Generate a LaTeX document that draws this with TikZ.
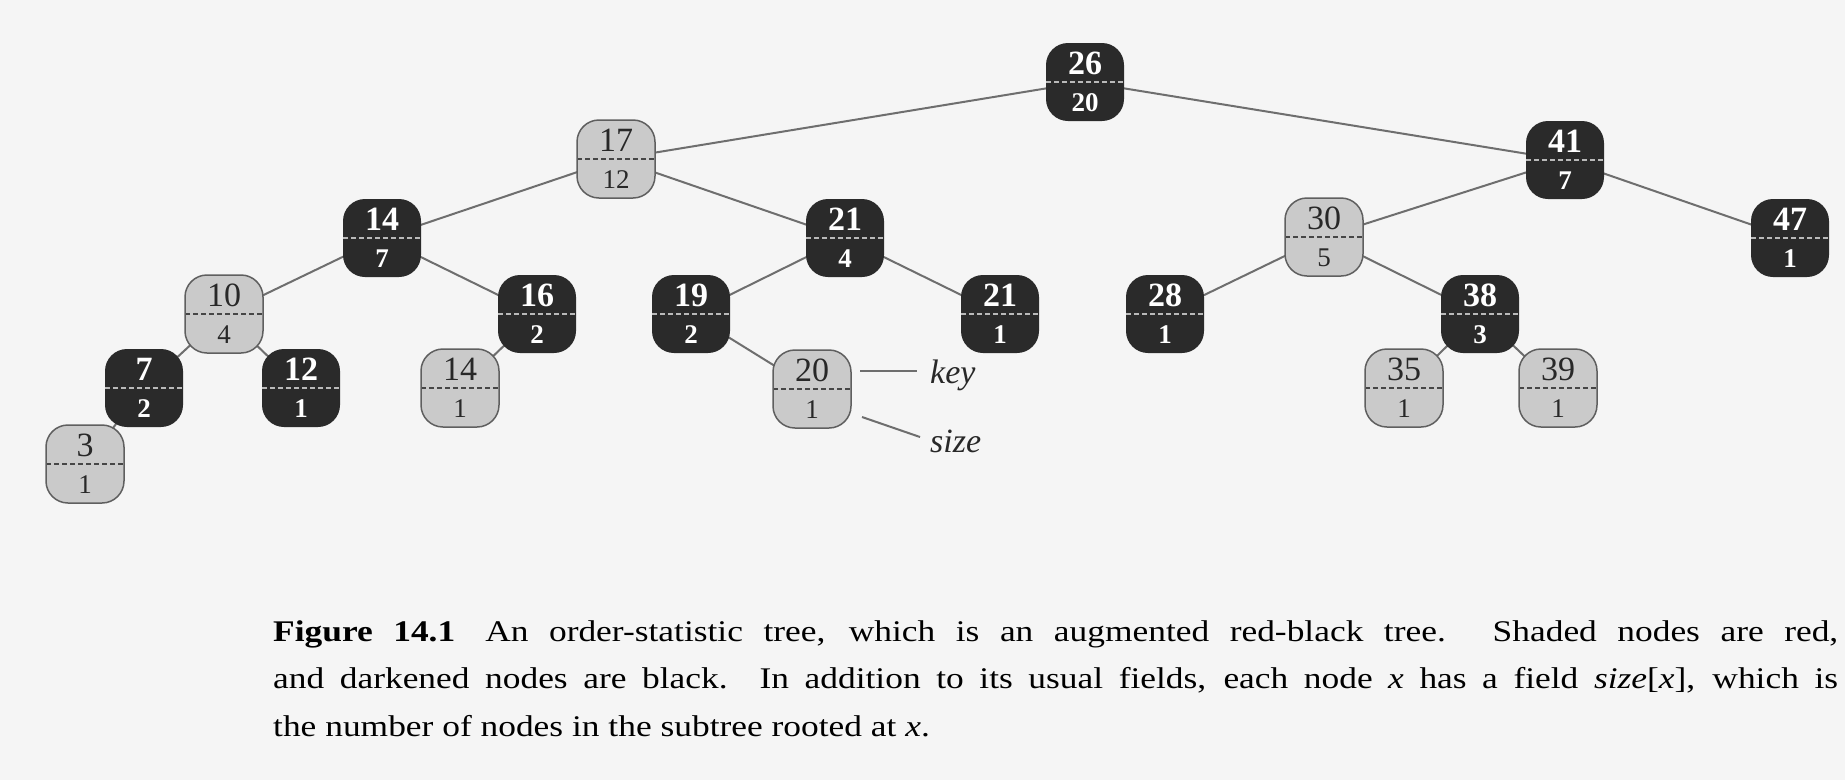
\documentclass[tikz,border=0pt]{standalone}
\usepackage{fontspec}
\setmainfont{Liberation Serif}
\newfontfamily\capfont[FakeStretch=1.18]{Liberation Serif}
\definecolor{bg}{RGB}{245,245,245}
\definecolor{blkfill}{RGB}{42,42,42}
\definecolor{redfill}{RGB}{202,202,202}
\definecolor{redborder}{RGB}{95,95,95}
\definecolor{edgecol}{RGB}{110,110,110}
\definecolor{lightdash}{RGB}{185,185,185}
\definecolor{darkdash}{RGB}{70,70,70}
\definecolor{redtext}{RGB}{40,40,40}
\newcommand\keyf{\fontsize{34}{37}\selectfont}
\newcommand\sizef{\fontsize{27}{37}\selectfont}
\pgfdeclarelayer{bglayer}
\pgfdeclarelayer{edgelayer}
\pgfsetlayers{bglayer,edgelayer,main}
\begin{document}
\begin{tikzpicture}[x=1pt,y=-1pt,
  rbbox/.style={rectangle, rounded corners=22pt, minimum width=78pt, minimum height=78pt,
    inner sep=0pt, align=center, font=\keyf},
  blacknode/.style={rbbox, fill=blkfill, text=white,
    path picture={\draw[dashed, dash pattern=on 5pt off 3pt, draw=lightdash, line width=1.5pt]
      (path picture bounding box.west) -- (path picture bounding box.east);}},
  rednode/.style={rbbox, fill=redfill, draw=redborder, line width=1.5pt, text=redtext,
    path picture={\draw[dashed, dash pattern=on 5pt off 3pt, draw=darkdash, line width=1.5pt]
      (path picture bounding box.west) -- (path picture bounding box.east);}},
  treeline/.style={draw=edgecol, line width=2pt},
  annot/.style={draw=edgecol, line width=2pt},
  lbl/.style={font=\fontsize{34}{37}\selectfont\itshape, inner sep=0pt, text=redtext}
]
\begin{pgfonlayer}{bglayer}
\fill[bg] (0,0) rectangle (1845,780);
\end{pgfonlayer}
\useasboundingbox (0,0) rectangle (1845,780);

\newcommand\bnode[4]{\node[blacknode] (#1) at (#2) {\textbf{#3}\\\sizef\textbf{#4}};}
\newcommand\rnode[4]{\node[rednode] (#1) at (#2) {#3\\\sizef #4};}

\bnode{n26}{1085,82}{26}{20}
\rnode{n17}{616,159}{17}{12}
\bnode{n41}{1565,160}{41}{7}
\bnode{n14}{382,238}{14}{7}
\bnode{n21a}{845,238}{21}{4}
\rnode{n30}{1324,237}{30}{5}
\bnode{n47}{1790,238}{47}{1}
\rnode{n10}{224,314}{10}{4}
\bnode{n16}{537,314}{16}{2}
\bnode{n19}{691,314}{19}{2}
\bnode{n21b}{1000,314}{21}{1}
\bnode{n28}{1165,314}{28}{1}
\bnode{n38}{1480,314}{38}{3}
\bnode{n7}{144,388}{7}{2}
\bnode{n12}{301,388}{12}{1}
\rnode{n14b}{460,388}{14}{1}
\rnode{n20}{812,389}{20}{1}
\rnode{n35}{1404,388}{35}{1}
\rnode{n39}{1558,388}{39}{1}
\rnode{n3}{85,464}{3}{1}

\begin{pgfonlayer}{edgelayer}
\foreach \a/\b in {n26/n17, n26/n41, n17/n14, n17/n21a, n14/n10, n14/n16, n10/n7, n10/n12,
  n7/n3, n16/n14b, n21a/n19, n21a/n21b, n19/n20, n41/n30, n41/n47, n30/n28, n30/n38,
  n38/n35, n38/n39}
  \draw[treeline] (\a.center) -- (\b.center);
\end{pgfonlayer}

\node[lbl, anchor=base west] (keylbl) at (930,383) {key};
\node[lbl, anchor=base west] (sizelbl) at (930,452) {size};
\coordinate (ka) at (860,371);
\coordinate (kb) at (917,371);
\coordinate (sa) at (862,417);
\coordinate (sb) at (920,437);
\draw[annot] (ka) -- (kb);
\draw[annot] (sa) -- (sb);

\node[anchor=base west, text width=1565pt, align=justify, inner sep=0pt,
  font=\capfont\fontsize{30}{47.5}\selectfont, text=black] (caption) at (273,641)
  {\textbf{Figure 14.1}\hspace*{30pt}An order-statistic tree, which is an augmented red-black tree. Shaded nodes are red,\linebreak
   and darkened nodes are black. In addition to its usual fields, each node \textit{x} has a field \textit{size}[\textit{x}], which is\linebreak
   the number of nodes in the subtree rooted at \textit{x}.};
\end{tikzpicture}
\end{document}
